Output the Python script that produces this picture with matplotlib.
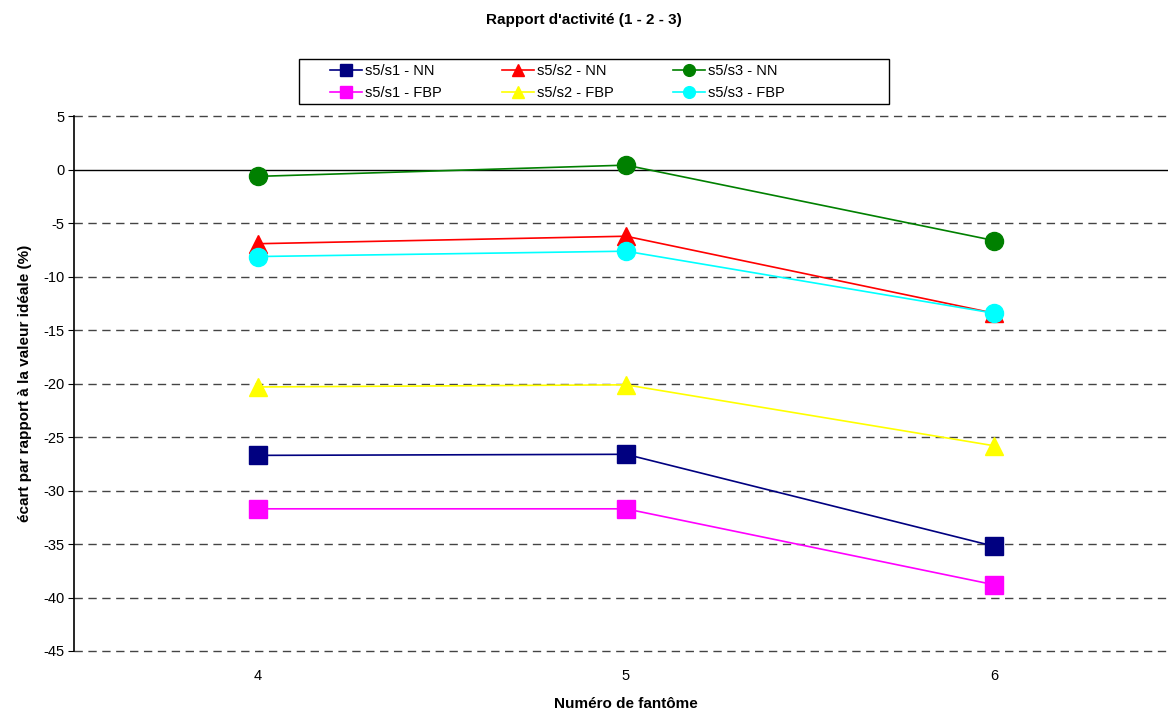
import matplotlib
matplotlib.use("Agg")
from matplotlib import pyplot as plt
from matplotlib.patches import Rectangle

plt.rcParams['font.family'] = ['Liberation Sans', 'DejaVu Sans']
plt.rcParams['axes.unicode_minus'] = False

fantomes = [4, 5, 6]

s1_nn = [-26.7, -26.6, -35.2]
s2_nn = [-6.9, -6.2, -13.4]
s3_nn = [-0.6, 0.45, -6.6]
s1_fbp = [-31.7, -31.7, -38.8]
s2_fbp = [-20.3, -20.1, -25.8]
s3_fbp = [-8.1, -7.6, -13.4]

y_ticks = [5, 0, -5, -10, -15, -20, -25, -30, -35, -40, -45]

W, H = 1168, 713
fig = plt.figure(figsize=(W / 100, H / 100), dpi=100)
ax = fig.add_axes([74 / W, 1 - 651 / H, 1104 / W, (651 - 116.5) / H])

# grid lines
for yv in y_ticks:
    if yv == 0:
        ax.axhline(0, color="black", linewidth=1.0, zorder=1)
    else:
        ax.axhline(yv, color="#444444", linewidth=1.0, linestyle=(0, (6, 4)),
                   zorder=1, clip_on=False)

series = [
    ("s5/s1 - NN", s1_nn, "#000080", "s"),
    ("s5/s1 - FBP", s1_fbp, "#ff00ff", "s"),
    ("s5/s2 - NN", s2_nn, "#ff0000", "^"),
    ("s5/s2 - FBP", s2_fbp, "#ffff00", "^"),
    ("s5/s3 - NN", s3_nn, "#008000", "o"),
    ("s5/s3 - FBP", s3_fbp, "#00ffff", "o"),
]

for label, vals, color, marker in series:
    ax.plot(fantomes, vals, color=color, marker=marker, markersize=13,
            linewidth=1.2, label=label, zorder=3)

ax.set_xlim(3.5, 6.5)
ax.set_ylim(-45, 5)
ax.set_xticks(fantomes)
ax.set_yticks(y_ticks)
ax.tick_params(axis="x", length=0, labelsize=10.5, pad=13)
ax.tick_params(axis="y", length=4, direction="out", labelsize=10.5, pad=3)

for side in ["top", "right", "bottom"]:
    ax.spines[side].set_visible(False)
ax.spines["left"].set_linewidth(1.2)

ax.set_ylabel("écart par rapport à la valeur idéale (%)", fontsize=11,
              fontweight="bold", labelpad=8)
fig.text(626 / W, 1 - 704 / H, "Numéro de fantôme", fontsize=11,
         fontweight="bold", ha="center", va="center")

fig.suptitle("Rapport d'activité (1 - 2 - 3)", fontsize=11, fontweight="bold",
             x=0.5, y=1 - 20 / H, va="center")

leg = fig.legend(loc="center left", bbox_to_anchor=(330 / W, 1 - 82 / H),
                 ncol=3, fontsize=10.5, frameon=False, markerscale=0.65,
                 handlelength=2.2, columnspacing=4.1, labelspacing=0.5,
                 borderpad=0, borderaxespad=0, handletextpad=0.2)

fig.patches.append(Rectangle((299 / W, 1 - 104 / H), 590 / W, 45 / H,
                             transform=fig.transFigure, fill=False,
                             edgecolor="black", linewidth=1.0))

fig.savefig("out.png", dpi=100)
